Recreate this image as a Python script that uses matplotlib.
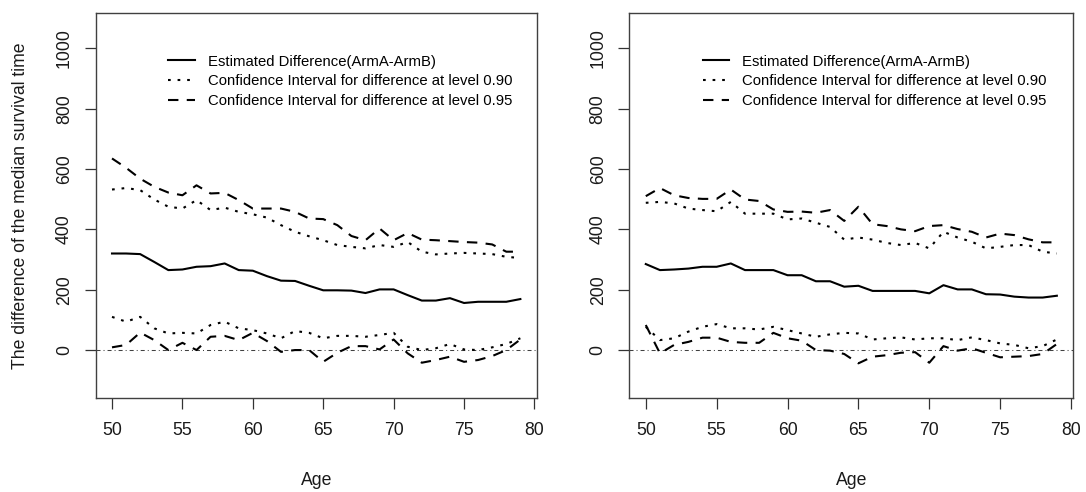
import numpy as np
import matplotlib
matplotlib.use('Agg')
import matplotlib.pyplot as plt

# ages on the x axis (same for both panels)
ages = [50, 51, 52, 53, 54, 55, 56, 57, 58, 59, 60, 61, 62, 63, 64,
        65, 66, 67, 68, 69, 70, 71, 72, 73, 74, 75, 76, 77, 78, 79]

# left panel
est_l = [320, 320, 318, 292, 265, 267, 276, 278, 287, 265, 263, 245, 230, 229, 213,
         198, 198, 197, 189, 201, 201, 182, 164, 164, 172, 156, 160, 160, 160, 169]
up90_l = [532, 537, 530, 499, 475, 469, 497, 464, 472, 458, 450, 439, 414, 392, 377,
          364, 348, 342, 337, 348, 342, 358, 326, 317, 320, 322, 320, 318, 309, 305]
lo90_l = [110, 94, 110, 72, 55, 57, 55, 83, 94, 72, 66, 55, 39, 63, 57,
          39, 47, 47, 44, 50, 57, 11, 0, 6, 20, 2, 0, 9, 20, 39]
up95_l = [635, 604, 568, 541, 522, 513, 546, 519, 521, 497, 469, 469, 469, 458, 436,
          434, 414, 378, 364, 403, 364, 388, 366, 364, 361, 358, 356, 350, 326, 326]
lo95_l = [9, 17, 58, 33, 0, 24, 0, 44, 47, 33, 57, 30, -6, 0, 0,
          -39, -9, 13, 13, 2, 35, -11, -42, -33, -22, -39, -33, -20, 0, 35]

# right panel
est_r = [285, 265, 267, 270, 276, 276, 287, 265, 265, 265, 248, 248, 228, 228, 210,
         213, 196, 196, 196, 196, 188, 215, 201, 201, 185, 184, 177, 174, 174, 180]
up90_r = [488, 491, 486, 469, 464, 460, 491, 452, 452, 452, 433, 436, 422, 408, 366,
          373, 366, 355, 348, 355, 337, 392, 373, 359, 337, 342, 348, 348, 326, 320]
lo90_r = [77, 33, 39, 61, 77, 86, 72, 72, 68, 77, 66, 55, 44, 52, 57,
          55, 35, 39, 42, 35, 39, 39, 33, 42, 33, 22, 17, 6, 13, 35]
up95_r = [510, 537, 513, 504, 501, 501, 532, 499, 494, 466, 458, 459, 455, 464, 428,
          475, 417, 411, 400, 394, 411, 414, 401, 392, 373, 386, 381, 367, 357, 357]
lo95_r = [83, -11, 17, 27, 41, 41, 27, 24, 24, 57, 39, 31, 0, -2, -13,
          -44, -22, -17, -9, -7, -42, 13, -2, 6, -9, -24, -22, -20, -13, 20]

labels = ['Estimated Difference(ArmA-ArmB)',
          'Confidence Interval for difference at level 0.90',
          'Confidence Interval for difference at level 0.95']

plt.rcParams['font.family'] = ['Liberation Sans', 'DejaVu Sans']

fig = plt.figure(figsize=(10.86, 4.92), dpi=100)
ax1 = fig.add_axes([0.0881, 0.1904, 0.4061, 0.7825])
ax2 = fig.add_axes([0.5795, 0.1904, 0.4088, 0.7825])

DOT = (1.3, 3.3)
DASH = (5, 4)


def panel(ax, est, lo90, up90, lo95, up95):
    ax.axhline(0, color='#404040', lw=0.75, dashes=(3.85, 2.9, 0.96, 2.9))
    ax.plot(ages, est, color='black', lw=1.5, label=labels[0])
    ax.plot(ages, up90, color='black', lw=1.5, dashes=DOT, label=labels[1])
    ax.plot(ages, lo90, color='black', lw=1.5, dashes=DOT)
    ax.plot(ages, up95, color='black', lw=1.5, dashes=DASH, label=labels[2])
    ax.plot(ages, lo95, color='black', lw=1.5, dashes=DASH)

    ax.set_xlim(48.84, 80.16)
    ax.set_ylim(-160, 1116)
    ax.set_xticks([50, 55, 60, 65, 70, 75, 80])
    ax.set_yticks([0, 200, 400, 600, 800, 1000])
    ax.set_yticklabels(['0', '200', '400', '600', '800', '1000'],
                       rotation=90, va='center')
    ax.tick_params(axis='both', direction='out', length=7.7, width=0.9,
                   color='#333333', labelsize=12.7, labelcolor='#1a1a1a')
    ax.tick_params(axis='x', pad=9.6)
    ax.tick_params(axis='y', pad=8.6)
    for s in ax.spines.values():
        s.set_color('#404040')
        s.set_linewidth(1.0)

    ax.set_xlabel('Age', fontsize=12.7, color='#1a1a1a')
    ax.xaxis.set_label_coords(0.5, -0.1906)

    ax.legend(loc='upper left', bbox_to_anchor=(0.165, 0.893), frameon=False,
              fontsize=10.7, handlelength=1.8, handletextpad=0.87,
              labelspacing=0.39, borderpad=0, borderaxespad=0)


panel(ax1, est_l, lo90_l, up90_l, lo95_l, up95_l)
panel(ax2, est_r, lo90_r, up90_r, lo95_r, up95_r)

ax1.set_ylabel('The difference of the median survival time', fontsize=12.7,
               color='#1a1a1a')
ax1.yaxis.set_label_coords(-0.151, 0.5)

fig.savefig('out.png', dpi=100)
